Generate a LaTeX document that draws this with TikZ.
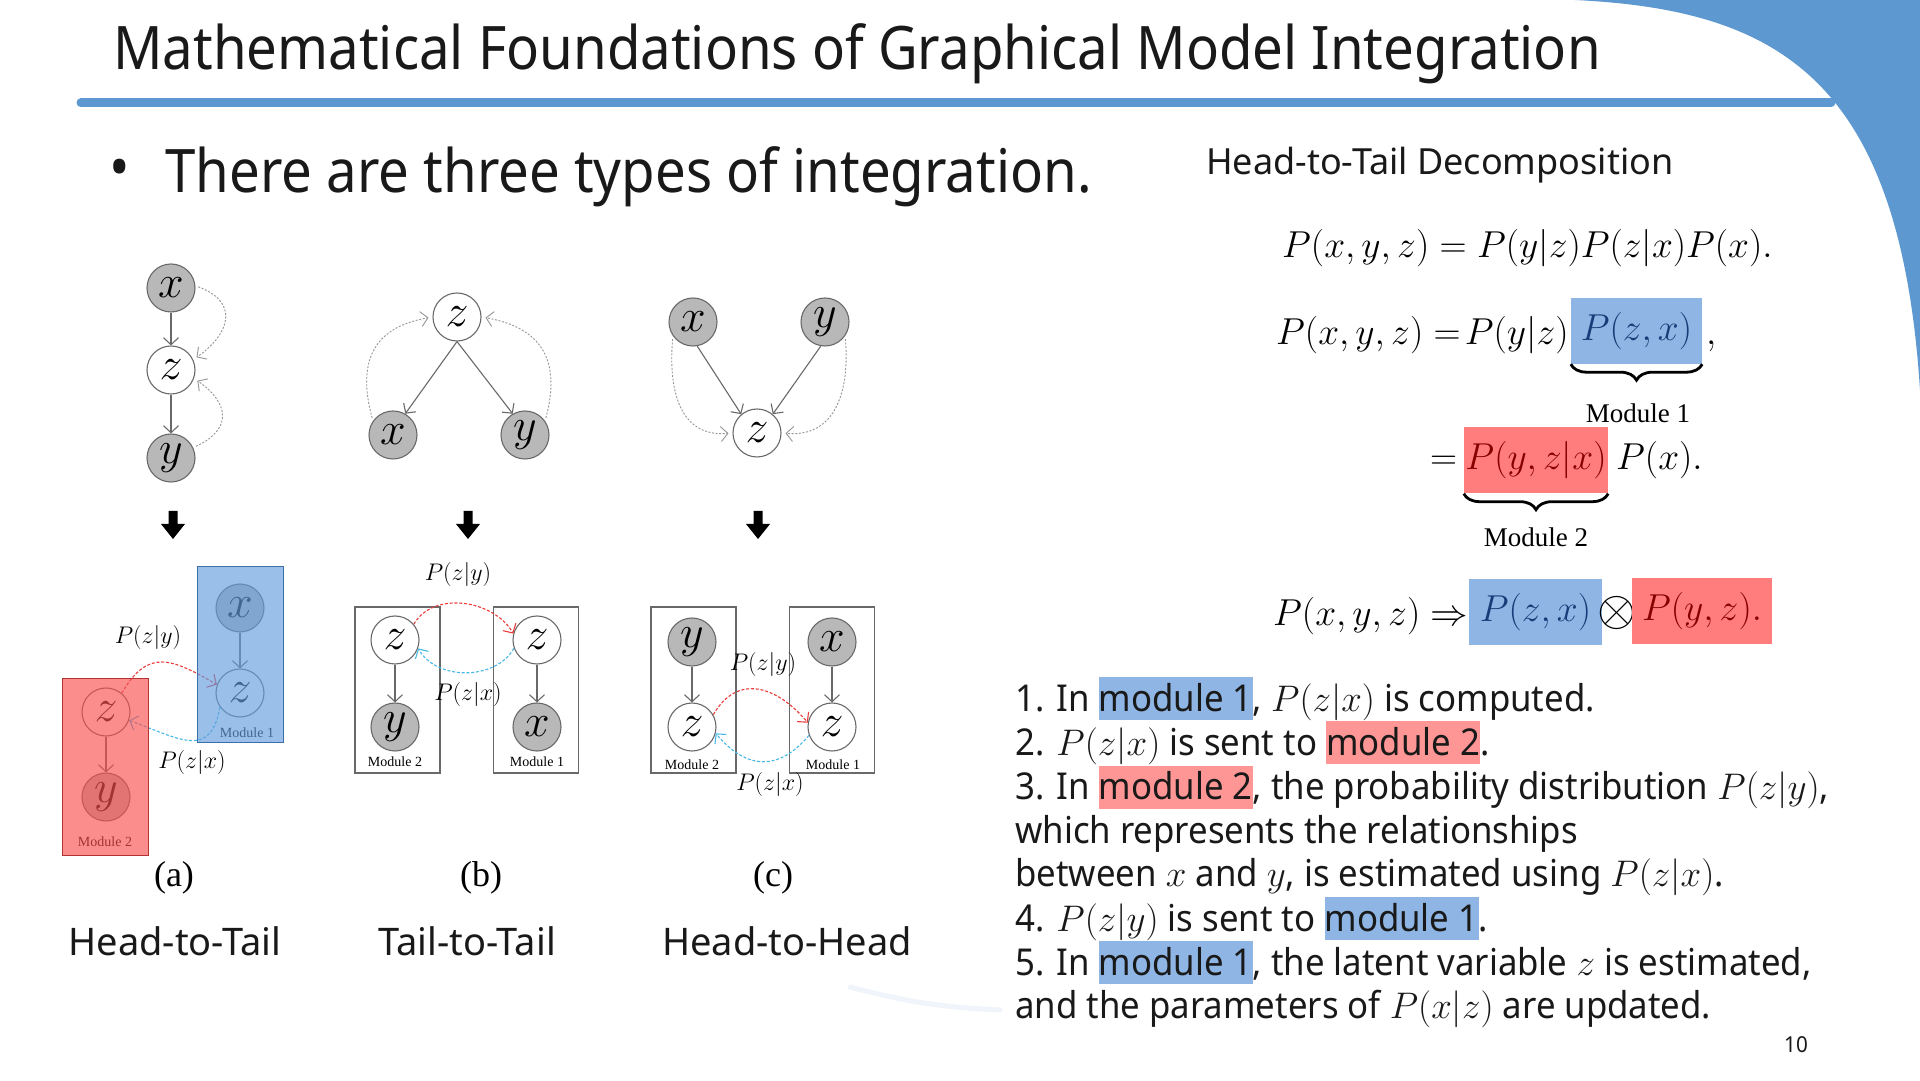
\RequirePackage{fix-cm}
\documentclass[tikz,border=0pt]{standalone}
\usepackage{fontspec}
\setmainfont{Noto Sans}
\newfontfamily\titlefont{Noto Sans}[FakeStretch=0.91]
\newfontfamily\slidefont{Noto Sans}[FakeStretch=0.94]
\newfontfamily\tmsfont{Liberation Serif}
\usetikzlibrary{arrows.meta,positioning,calc,decorations.pathreplacing}
\definecolor{slideblue}{RGB}{94,152,208}
\definecolor{ink}{RGB}{25,25,25}
\definecolor{edgegray}{RGB}{105,105,105}
\definecolor{obsgray}{RGB}{184,184,184}
\definecolor{hintgray}{RGB}{150,150,150}
\definecolor{hlblue}{RGB}{142,181,227}
\definecolor{hlred}{RGB}{255,150,150}
\definecolor{eqred}{RGB}{255,125,125}
\definecolor{txtblue}{RGB}{25,60,120}
\definecolor{txtred}{RGB}{135,0,0}
\definecolor{figblue}{RGB}{100,158,222}
\definecolor{figblueedge}{RGB}{60,110,170}
\definecolor{figred}{RGB}{250,80,80}
\definecolor{figrededge}{RGB}{180,50,50}
\definecolor{msgred}{RGB}{235,60,60}
\definecolor{msgblue}{RGB}{70,185,230}
\tikzset{
  lat/.style={circle,draw=edgegray,line width=1.1pt,fill=white,minimum size=48pt,inner sep=0pt,
    font=\fontsize{46}{46}\selectfont},
  obs/.style={lat,fill=obsgray},
  edge/.style={draw=edgegray,line width=1.1pt,-{Straight Barb[length=7pt,width=15pt]}},
  hint/.style={draw=hintgray,line width=0.9pt,dash pattern=on 2pt off 1.6pt,
    shorten <=3pt,shorten >=4pt,-{Straight Barb[length=7pt,width=15pt]}},
  sendr/.style={draw=msgred,line width=1.1pt,dash pattern=on 3pt off 1.8pt,
    -{Straight Barb[length=7pt,width=15pt]}},
  sendb/.style={draw=msgblue,line width=1.1pt,dash pattern=on 3pt off 1.8pt,
    -{Straight Barb[length=7pt,width=15pt]}},
  modbox/.style={draw=edgegray,line width=1.2pt,inner sep=0pt,minimum width=85pt,minimum height=166pt},
  modtag/.style={font=\tmsfont\fontsize{14}{14}\selectfont,inner sep=0pt},
  prob/.style={font=\fontsize{24}{24}\selectfont,inner sep=0pt},
  downblk/.pic={\fill (-4.5,14) -- (4.5,14) -- (4.5,1) -- (12,1) -- (0,-14) -- (-12,1) -- (-4.5,1) -- cycle;},
  subcap/.style={font=\tmsfont\fontsize{36}{36}\selectfont,inner sep=0pt},
  kind/.style={font=\fontsize{38}{38}\selectfont,inner sep=0pt,text=ink,anchor=base},
  eq/.style={font=\fontsize{37.5}{37.5}\selectfont,inner sep=0pt,anchor=base west},
  eqbox/.style={inner sep=0pt,minimum height=66pt,font=\fontsize{37.5}{37.5}\selectfont},
  brc/.style={decorate,decoration={brace,amplitude=16pt},line width=2.8pt},
  eqtag/.style={font=\tmsfont\fontsize{27}{27}\selectfont,inner sep=0pt,anchor=base},
}
\newcommand{\lst}{\rule[-9pt]{0pt}{43pt}}
\newcommand{\hlb}[1]{{\setlength{\fboxsep}{0pt}\colorbox{hlblue}{\lst#1}}}
\newcommand{\hlr}[1]{{\setlength{\fboxsep}{0pt}\colorbox{hlred}{\lst#1}}}

\begin{document}
\begin{tikzpicture}[x=1pt,y=1pt]
  \useasboundingbox (0,0) rectangle (1920,1080);
  \fill[white] (0,0) rectangle (1920,1080);
  \fill[slideblue] (1575,1080) .. controls (1780,1070) and (1900,1000) .. (1920,690) -- (1920,1080) -- cycle;
  \draw[slideblue,line width=9pt,line cap=round] (81,977) -- (1831,977);
  \draw[slideblue!10,line width=5pt,line cap=round] (850,93) to[bend right=6] (1000,70);

  \node[anchor=base west,inner sep=0pt,text=ink,font=\titlefont\fontsize{60}{60}\selectfont] (title)
    at (113,1010) {Mathematical Foundations of Graphical Model Integration};
  \node[inner sep=0pt,text=ink,font=\titlefont\fontsize{60}{60}\selectfont] (bul) at (120,906) {\textbullet};
  \node[anchor=base west,inner sep=0pt,text=ink,font=\titlefont\fontsize{60}{60}\selectfont] (intro)
    at (165,887) {There are three types of integration.};

  % (a) head-to-tail
  \node[obs] (ax) at (171,792) {$x$};
  \node[lat] (az) at (171,710) {$z$};
  \node[obs] (ay) at (171,622) {$y$};
  \draw[edge] (ax) -- (az);
  \draw[edge] (az) -- (ay);
  \draw[hint] (ax.5) to[out=-20,in=35,looseness=1.6] (az.25);
  \draw[hint] (ay.25) to[out=25,in=-35,looseness=1.6] (az.-20);

  % (b) tail-to-tail
  \node[lat] (bz) at (457,763) {$z$};
  \node[obs] (bx) at (393,645) {$x$};
  \node[obs] (by) at (525,645) {$y$};
  \draw[edge] (bz.south) -- (bx.60);
  \draw[edge] (bz.south) -- (by.120);
  \draw[hint] (bx.145) to[out=105,in=190,looseness=1.3] (bz.west);
  \draw[hint] (by.35) to[out=75,in=-10,looseness=1.3] (bz.east);

  % (c) head-to-head
  \node[obs] (cx) at (693,758) {$x$};
  \node[obs] (cy) at (825,758) {$y$};
  \node[lat] (cz) at (757,647) {$z$};
  \draw[edge] (cx.-80) -- (cz.130);
  \draw[edge] (cy.-100) -- (cz.50);
  \draw[hint] (cx.215) to[out=265,in=185,looseness=1.2] (cz.west);
  \draw[hint] (cy.-35) to[out=-85,in=-5,looseness=1.2] (cz.east);

  \pic (da) at (173,555) {downblk};
  \pic (db) at (468,555) {downblk};
  \pic (dc) at (758,555) {downblk};

  % (a) split into modules
  \node[obs] (amx) at (240,472) {$x$};
  \node[lat] (amz) at (240,387) {$z$};
  \node[modtag] (amt) at (247,347) {Module 1};
  \node[lat] (arz) at (106,368) {$z$};
  \node[obs] (ary) at (106,283) {$y$};
  \node[modtag] (art) at (105,238) {Module 2};
  \draw[edge] (amx) -- (amz);
  \draw[edge] (arz) -- (ary);
  \draw[sendr] (arz.50) to[out=60,in=150,looseness=1.4] (amz.160);
  \draw[sendb] (amz.215) to[out=-100,in=-20,looseness=1.5] (arz.-20);
  \node[prob] (apy) at (148,442) {$P(z|y)$};
  \node[prob] (apx) at (192,318) {$P(z|x)$};
  \node[draw=figblueedge,fill=figblue,fill opacity=0.65,line width=1pt,inner sep=0pt,
    minimum width=86pt,minimum height=176pt] (am1) at (240,425) {};
  \node[draw=figrededge,fill=figred,fill opacity=0.65,line width=1pt,inner sep=0pt,
    minimum width=86pt,minimum height=176pt] (am2) at (105,313) {};

  % (b) split into modules
  \node[lat] (blz) at (395,440) {$z$};
  \node[obs] (bly) at (395,353) {$y$};
  \node[lat] (brz) at (537,440) {$z$};
  \node[obs] (brx) at (537,353) {$x$};
  \node[modbox] (bm2) at (397.5,390) {};
  \node[modbox] (bm1) at (536,390) {};
  \node[modtag] (blt) at (395,318) {Module 2};
  \node[modtag] (brt) at (537,318) {Module 1};
  \draw[edge] (blz) -- (bly);
  \draw[edge] (brz) -- (brx);
  \draw[sendr] (blz.40) to[out=60,in=120] (brz.165);
  \draw[sendb] (brz.-160) to[out=-120,in=-60] (blz.-20);
  \node[prob] (bpy) at (458,505) {$P(z|y)$};
  \node[prob] (bpx) at (468,385) {$P(z|x)$};

  % (c) split into modules
  \node[obs] (cly) at (692,438) {$y$};
  \node[lat] (clz) at (692,353) {$z$};
  \node[obs] (crx) at (832,438) {$x$};
  \node[lat] (crz) at (832,353) {$z$};
  \node[modbox] (cm2) at (693.5,390) {};
  \node[modbox] (cm1) at (832,390) {};
  \node[modtag] (clt) at (692,315) {Module 2};
  \node[modtag] (crt) at (833,315) {Module 1};
  \draw[edge] (cly) -- (clz);
  \draw[edge] (crx) -- (crz);
  \draw[sendr] (clz.30) to[out=60,in=130,looseness=1.3] (crz.170);
  \draw[sendb] (crz.-160) to[out=-130,in=-50,looseness=1.3] (clz.-15);
  \node[prob] (cpy) at (763,415) {$P(z|y)$};
  \node[prob] (cpx) at (770,295) {$P(z|x)$};

  \node[subcap] (capa) at (174,202) {(a)};
  \node[subcap] (capb) at (481,202) {(b)};
  \node[subcap] (capc) at (773,202) {(c)};
  \node[kind] (ka) at (175,125) {Head-to-Tail};
  \node[kind] (kb) at (467,125) {Tail-to-Tail};
  \node[kind] (kc) at (787,125) {Head-to-Head};

  % decomposition
  \node[anchor=base west,inner sep=0pt,text=ink,font=\fontsize{36}{36}\selectfont] (dec)
    at (1206,905) {Head-to-Tail Decomposition};
  \node[eq] (e1) at (1282,822) {$P(x, y, z) = P(y|z)P(z|x)P(x).$};
  \node[eq] (e2) at (1276,735) {$P(x, y, z) =\!P(y|z)$};
  \node[eqbox,fill=hlblue,text=txtblue,minimum width=131pt] (e2m) at (1636.5,749) {$P(z, x)$};
  \node[eq] (e2c) at (1706,735) {$,$};
  \draw[brc] (e2m.south east) -- (e2m.south west);
  \node[eqtag] (m1) at (1638,657) {Module 1};
  \node[eq] (e3a) at (1430,610) {$=$};
  \node[eqbox,fill=eqred,text=txtred,minimum width=144pt] (e3m) at (1536,619.5) {$P(y, z|x)$};
  \node[eq] (e3b) at (1616,610) {$P(x).$};
  \draw[brc] (e3m.south east) -- (e3m.south west);
  \node[eqtag] (m2) at (1536,533) {Module 2};
  \node[eq] (e4a) at (1273,454) {$P(x, y, z) \Rightarrow$};
  \node[eqbox,fill=hlblue,text=txtblue,minimum width=133pt] (e4m) at (1535.5,467.5) {$P(z, x)$};
  \node[font=\fontsize{50}{50}\selectfont,inner sep=0pt] (e4o) at (1617,467) {$\otimes$};
  \node[eqbox,fill=eqred,text=txtred,minimum width=140pt] (e4r) at (1702,469) {$P(y, z).$};

  \node[anchor=north west,align=left,inner sep=0pt,text=ink,font=\slidefont\fontsize{37}{43}\selectfont] (steps)
    at (1015,403) {\lst 1. In \hlb{module 1}, $P(z|x)$ is computed.\\
    \lst 2. $P(z|x)$ is sent to \hlr{module 2}.\\
    \lst 3. In \hlr{module 2}, the probability distribution $P(z|y)$,\\
    \lst which represents the relationships\\
    \lst between $x$ and $y$, is estimated using $P(z|x)$.\\
    \lst 4. $P(z|y)$ is sent to \hlb{module 1}.\\
    \lst 5. In \hlb{module 1}, the latent variable $z$ is estimated,\\
    \lst and the parameters of $P(x|z)$ are updated.};
  \node[inner sep=0pt,text=ink,font=\slidefont\fontsize{22}{22}\selectfont] (pgno) at (1796,35) {10};
\end{tikzpicture}
\end{document}
